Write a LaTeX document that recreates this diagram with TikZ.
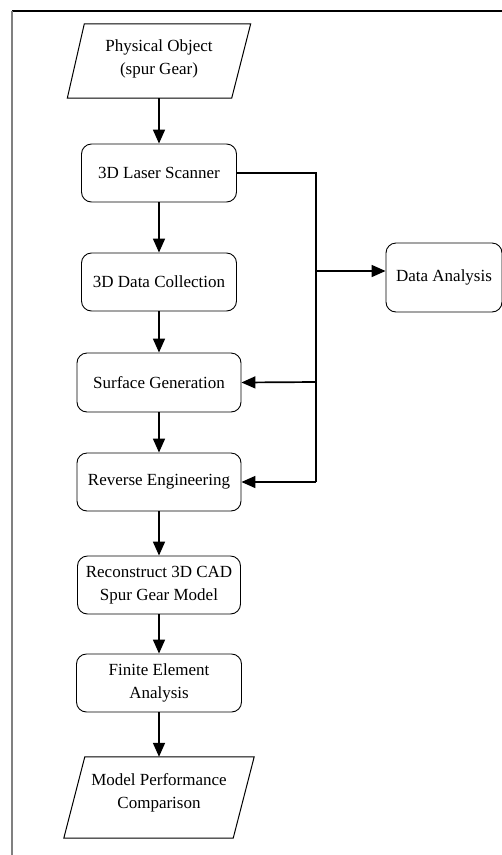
\documentclass[tikz,border=0pt]{standalone}
\usepackage{fontspec}
\setmainfont{Liberation Serif}
\usetikzlibrary{arrows.meta,calc}
\begin{document}
\begin{tikzpicture}[x=1pt,y=-1pt,
  box/.style={draw,line width=0.9pt,rounded corners=10pt,align=center,inner sep=0pt,
    font=\fontsize{17}{23}\selectfont},
  para/.style={inner sep=0pt,align=center,font=\fontsize{17}{23}\selectfont},
  conn/.style={line width=1.7pt,-{Triangle[length=14pt,width=12pt]}},
  plain/.style={line width=1.7pt}]
\useasboundingbox (0,0) rectangle (502,855);
\draw[line width=1.2pt] (12,11) -- (502,11);
\draw[line width=1.2pt,gray] (12,11) -- (12,855);

% parallelogram 1
\node[minimum width=183pt,minimum height=74pt,inner sep=0pt] (po) at (159,61) {};
\draw[line width=1pt] ($(po.north west)+(17,0)$) -- (po.north east) -- ($(po.south east)+(-19,0)$) -- (po.south west) -- cycle;
\node[para] (pot) at (159,58.5) {Physical Object\\(spur Gear)};

\node[box,minimum width=155pt,minimum height=58pt] (ls) at (159,173) {3D Laser Scanner};
\node[box,minimum width=155pt,minimum height=58pt] (dc) at (159,282) {3D Data Collection};
\node[box,minimum width=164pt,minimum height=59pt] (sg) at (159,382.5) {Surface Generation};
\node[box,minimum width=164pt,minimum height=58pt] (re) at (159,482) {Reverse Engineering};
\node[box,minimum width=163pt,minimum height=58pt] (rc) at (159,585) {Reconstruct 3D CAD\\Spur Gear Model};
\node[box,minimum width=165pt,minimum height=58pt] (fe) at (159,683) {Finite Element\\Analysis};
\node[box,minimum width=116pt,minimum height=69pt] (da) at (444,277.5) {Data Analysis};

% parallelogram 2
\node[minimum width=190pt,minimum height=81pt,inner sep=0pt] (mp) at (159,797.5) {};
\draw[line width=1pt] ($(mp.north west)+(21,0)$) -- (mp.north east) -- ($(mp.south east)+(-21,0)$) -- (mp.south west) -- cycle;
\node[para] (mpt) at (159,792.5) {Model Performance\\Comparison};

\draw[conn] (po.south) -- (ls.north);
\draw[conn] (ls.south) -- (dc.north);
\draw[conn] (dc.south) -- (sg.north);
\draw[conn] (sg.south) -- (re.north);
\draw[conn] (re.south) -- (rc.north);
\draw[conn] (rc.south) -- (fe.north);
\draw[conn] (fe.south) -- (mp.north);

\coordinate (j1) at (316,173);
\coordinate (j2) at (316,271);
\coordinate (j3) at (316,382);
\coordinate (j4) at (316,482);
\draw[plain] (ls.east) -- (j1) -- (j4);
\draw[conn] (j4) -- (re.east);
\draw[conn] (j3) -- (sg.east);
\draw[conn] (j2) -- (da.west |- j2);
\end{tikzpicture}
\end{document}
